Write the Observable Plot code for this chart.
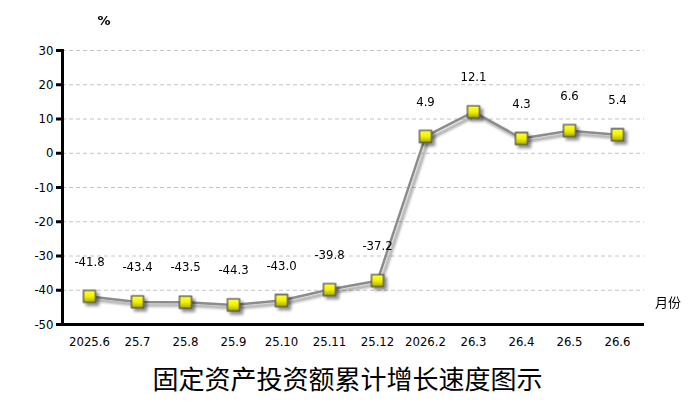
<!DOCTYPE html>
<html>
<head>
<meta charset="utf-8">
<script src="https://cdn.jsdelivr.net/npm/d3@7"></script>
<script src="https://cdn.jsdelivr.net/npm/@observablehq/plot@0.6"></script>
<style>
  html, body { margin: 0; padding: 0; background: #fff; }
  #wrap { width: 695px; position: relative; }
  #title { width: 695px; text-align: center; font-family: "Noto Sans CJK SC", sans-serif; font-size: 26px; color: #000; line-height: 30px; margin-top: 13px; }
</style>
</head>
<body>
<div id="wrap"></div>
<div id="title">固定资产投资额累计增长速度图示</div>
<script>
const months = ["2025.6","25.7","25.8","25.9","25.10","25.11","25.12","2026.2","26.3","26.4","26.5","26.6"];
const values = [-41.8,-43.4,-43.5,-44.3,-43.0,-39.8,-37.2,4.9,12.1,4.3,6.6,5.4];
const yTicks = [-50,-40,-30,-20,-10,0,10,20,30];

const data = months.map((m, i) => ({m, v: values[i]}));
const narrow = '"DejaVu Sans Condensed", "DejaVu Sans", sans-serif';

const plot = Plot.plot({
  width: 695,
  height: 350,
  marginLeft: 62,
  marginRight: 51,
  marginTop: 50,
  marginBottom: 26,
  style: {fontFamily: narrow, fontSize: "13px", color: "#000", background: "#fff"},
  x: {type: "point", domain: months, padding: 0.5, label: null},
  y: {domain: [-50, 30], label: null},
  marks: [
    Plot.ruleY(yTicks.filter(d => d > -50), {stroke: "#c4c4c4", strokeWidth: 1, strokeDasharray: "4,3"}),
    Plot.axisY({ticks: yTicks, tickSize: 6, tickPadding: 3, strokeWidth: 3, tickFormat: d => String(d), fontSize: 13, fill: "#000", label: null}),
    Plot.axisX({tickSize: 0, tickPadding: 12, fontSize: 13, fill: "#000", label: null}),
    Plot.frame({anchor: "left", stroke: "#000", strokeWidth: 3}),
    Plot.ruleY([-50], {stroke: "#000", strokeWidth: 3}),
    Plot.line(data, {x: "m", y: "v", stroke: "#8c8c8c", strokeWidth: 2.5}),
    Plot.dot(data, {x: "m", y: "v", symbol: "square", r: 6.8, fill: "url(#yg)", stroke: "#505050", strokeWidth: 1.3}),
    Plot.text(data, {x: "m", y: "v", text: d => d.v.toFixed(1), dy: -35, fontSize: 13, fill: "#000"})
  ]
});

// defs: gradient + shadow filter
const ns = "http://www.w3.org/2000/svg";
const svg = plot.tagName.toLowerCase() === "svg" ? plot : plot.querySelector("svg");
const defs = document.createElementNS(ns, "defs");
defs.innerHTML = `
  <linearGradient id="yg" x1="0" y1="0" x2="0" y2="1">
    <stop offset="0" stop-color="#ffff40"/>
    <stop offset="0.5" stop-color="#f2f200"/>
    <stop offset="1" stop-color="#a8a800"/>
  </linearGradient>
  <filter id="sh" x="-50%" y="-50%" width="200%" height="200%">
    <feGaussianBlur in="SourceAlpha" stdDeviation="1.5"/>
    <feOffset dx="2.5" dy="2.5" result="ob"/>
    <feComponentTransfer><feFuncA type="linear" slope="0.45"/></feComponentTransfer>
    <feMerge><feMergeNode/><feMergeNode in="SourceGraphic"/></feMerge>
  </filter>`;
svg.insertBefore(defs, svg.firstChild);
svg.querySelectorAll('g[aria-label="dot"], g[aria-label="line"]').forEach(g => g.setAttribute("filter", "url(#sh)"));

// extra texts: % and 月份
const t1 = document.createElementNS(ns, "text");
t1.setAttribute("x", 104); t1.setAttribute("y", 25); t1.setAttribute("text-anchor", "middle");
t1.setAttribute("font-family", '"DejaVu Sans", sans-serif'); t1.setAttribute("font-weight", "bold"); t1.setAttribute("font-size", "13");
t1.textContent = "%";
svg.appendChild(t1);
const t2 = document.createElementNS(ns, "text");
t2.setAttribute("x", 668); t2.setAttribute("y", 307); t2.setAttribute("text-anchor", "middle");
t2.setAttribute("font-family", '"Noto Sans CJK SC", sans-serif'); t2.setAttribute("font-size", "13");
t2.textContent = "月份";
svg.appendChild(t2);

document.getElementById("wrap").appendChild(plot);
</script>
</body>
</html>
